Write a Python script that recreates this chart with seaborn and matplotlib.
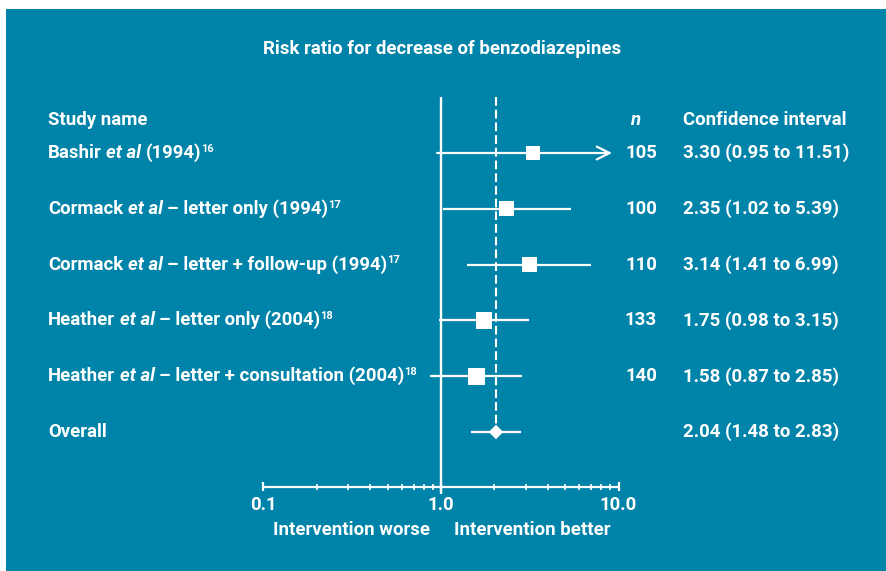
import matplotlib
matplotlib.use("Agg")
import matplotlib.pyplot as plt
from matplotlib.patches import Rectangle
import numpy as np
import pandas as pd
import seaborn as sns

# ------------------------------------------------------
# Data
# ------------------------------------------------------
authors = ["Bashir", "Cormack", "Cormack", "Heather", "Heather"]
arms = ["", "– letter only", "– letter + follow-up", "– letter only", "– letter + consultation"]
years = ["1994", "1994", "1994", "2004", "2004"]
refs = ["16", "17", "17", "18", "18"]
n_values = [105, 100, 110, 133, 140]
rr = [3.30, 2.35, 3.14, 1.75, 1.58]
ci_low = [0.95, 1.02, 1.41, 0.98, 0.87]
ci_high = [11.51, 5.39, 6.99, 3.15, 2.85]
weights = [10, 14, 16, 27, 32]
overall_rr = 2.04
overall_low = 1.48
overall_high = 2.83
x_ticks = [0.1, 1.0, 10.0]
x_tick_labels = ["0.1", "1.0", "10.0"]

# ------------------------------------------------------
# Layout helpers (pixel based, figure is 887 x 571)
# ------------------------------------------------------
W, H = 887, 571
TEAL = "#0083A9"
FS = 13.4
X_ONE, PX_DECADE = 441, 177.5          # pixel of RR=1 and pixels per decade
Y_ROW0, ROW_STEP = 153, 55.8           # pixel of first row, row spacing
ARROW_LIMIT = 10 ** ((612 - X_ONE) / PX_DECADE)   # where clipped CIs end


def fy(px):
    return (px - Y_ROW0) / ROW_STEP


def fx(px):
    return px / W


sns.set_style("white")
plt.rcParams["font.family"] = ["Roboto", "DejaVu Sans"]
plt.rcParams["font.weight"] = "bold"

fig = plt.figure(figsize=(W / 100, H / 100), dpi=100)
fig.patch.set_facecolor("white")

ax = fig.add_axes([0, 0, 1, 1])
ax.set_facecolor("none")
ax.set_xscale("log")
ax.set_xlim(10 ** (-X_ONE / PX_DECADE), 10 ** ((W - X_ONE) / PX_DECADE))
ax.set_ylim(fy(H), fy(0))
ax.axis("off")
ax.add_patch(Rectangle((6 / W, 0), 1, 1 - 9 / H, transform=ax.transAxes,
                       facecolor=TEAL, edgecolor="none", zorder=0, clip_on=False))

df = pd.DataFrame({"rr": rr, "low": ci_low, "high": ci_high,
                   "weight": weights, "row": np.arange(len(rr))})
overall_row = len(rr)

# reference lines
ax.vlines(1.0, fy(97), fy(494), color="white", lw=1.7, zorder=2)
ax.vlines(overall_rr, fy(97), overall_row, color="white", lw=1.5,
          linestyles=(0, (4.2, 1.9)), zorder=2)

# confidence intervals
inside = df[df["high"] <= ARROW_LIMIT]
ax.hlines(inside["row"], inside["low"], inside["high"], color="white", lw=1.6, zorder=3)
for _, r in df[df["high"] > ARROW_LIMIT].iterrows():
    ax.annotate("", xy=(ARROW_LIMIT, r["row"]), xytext=(r["low"], r["row"]),
                arrowprops=dict(arrowstyle="->", color="white", lw=1.6,
                                mutation_scale=23, shrinkA=0, shrinkB=0), zorder=3)

# study squares
sns.scatterplot(data=df, x="rr", y="row", size="weight", sizes=(112, 150),
                marker="s", color="white", edgecolor="none", legend=False,
                ax=ax, zorder=5)

# overall diamond
ax.hlines(overall_row, overall_low, overall_high, color="white", lw=1.6, zorder=3)
sns.scatterplot(x=[overall_rr], y=[overall_row], marker="D", s=55, color="white",
                edgecolor="none", legend=False, ax=ax, zorder=5)

# bottom axis
y_axis = fy(486.5)
ax.hlines(y_axis, x_ticks[0], x_ticks[-1], color="white", lw=1.6, zorder=2)
minor = [m * d for d in (0.1, 1.0) for m in range(2, 10)]
ax.vlines(minor, y_axis - 3 / ROW_STEP, y_axis + 3 / ROW_STEP, color="white", lw=1.2)
ax.vlines(x_ticks, y_axis - 5 / ROW_STEP, y_axis + 5 / ROW_STEP, color="white", lw=1.6)
for t, lab in zip(x_ticks, x_tick_labels):
    ax.text(t, fy(505), lab, ha="center", va="center", color="white", fontsize=FS)

ax.text(fx(430), 1 - 530 / H, "Intervention worse", transform=ax.transAxes,
        ha="right", va="center", color="white", fontsize=FS)
ax.text(fx(454), 1 - 530 / H, "Intervention better", transform=ax.transAxes,
        ha="left", va="center", color="white", fontsize=FS)

# title and headers
ax.text(fx(442), 1 - 49 / H, "Risk ratio for decrease of benzodiazepines",
        transform=ax.transAxes, ha="center", va="center", color="white", fontsize=FS)
ax.text(fx(48), fy(120), "Study name", transform=ax.get_yaxis_transform(),
        ha="left", va="center", color="white", fontsize=FS)
ax.text(fx(635), fy(120), "n", transform=ax.get_yaxis_transform(), ha="center",
        va="center", color="white", fontsize=FS, style="italic")
ax.text(fx(683), fy(120), "Confidence interval", transform=ax.get_yaxis_transform(),
        ha="left", va="center", color="white", fontsize=FS)


def rich_label(row, parts):
    """parts: list of (text, style, gap_before_in_points)"""
    prev = ax.text(fx(48), row, parts[0][0], transform=ax.get_yaxis_transform(),
                   ha="left", va="center", color="white", fontsize=FS, style=parts[0][1])
    for txt, style, gap in parts[1:]:
        prev = ax.annotate(txt, xy=(1, 0), xycoords=prev, xytext=(gap, 0),
                           textcoords="offset points", ha="left", va="bottom",
                           color="white", fontsize=FS, style=style)
    return prev


space = 3.4
for i in range(len(rr)):
    tail = f"{arms[i]} ({years[i]})" if arms[i] else f"({years[i]})"
    last = rich_label(i, [(authors[i], "normal", 0), ("et al", "italic", space),
                          (tail, "normal", space)])
    ax.annotate(refs[i], xy=(1, 1), xycoords=last, xytext=(-0.5, -0.5),
                textcoords="offset points", ha="left", va="top",
                color="white", fontsize=8)
    ax.text(fx(657), i, str(n_values[i]), transform=ax.get_yaxis_transform(),
            ha="right", va="center", color="white", fontsize=FS)
    ax.text(fx(683), i, f"{rr[i]:.2f} ({ci_low[i]:.2f} to {ci_high[i]:.2f})",
            transform=ax.get_yaxis_transform(), ha="left", va="center",
            color="white", fontsize=FS)

ax.text(fx(48), overall_row, "Overall", transform=ax.get_yaxis_transform(),
        ha="left", va="center", color="white", fontsize=FS)
ax.text(fx(683), overall_row, f"{overall_rr:.2f} ({overall_low:.2f} to {overall_high:.2f})",
        transform=ax.get_yaxis_transform(), ha="left", va="center",
        color="white", fontsize=FS)

fig.savefig("out.png", dpi=100, facecolor=fig.get_facecolor())
